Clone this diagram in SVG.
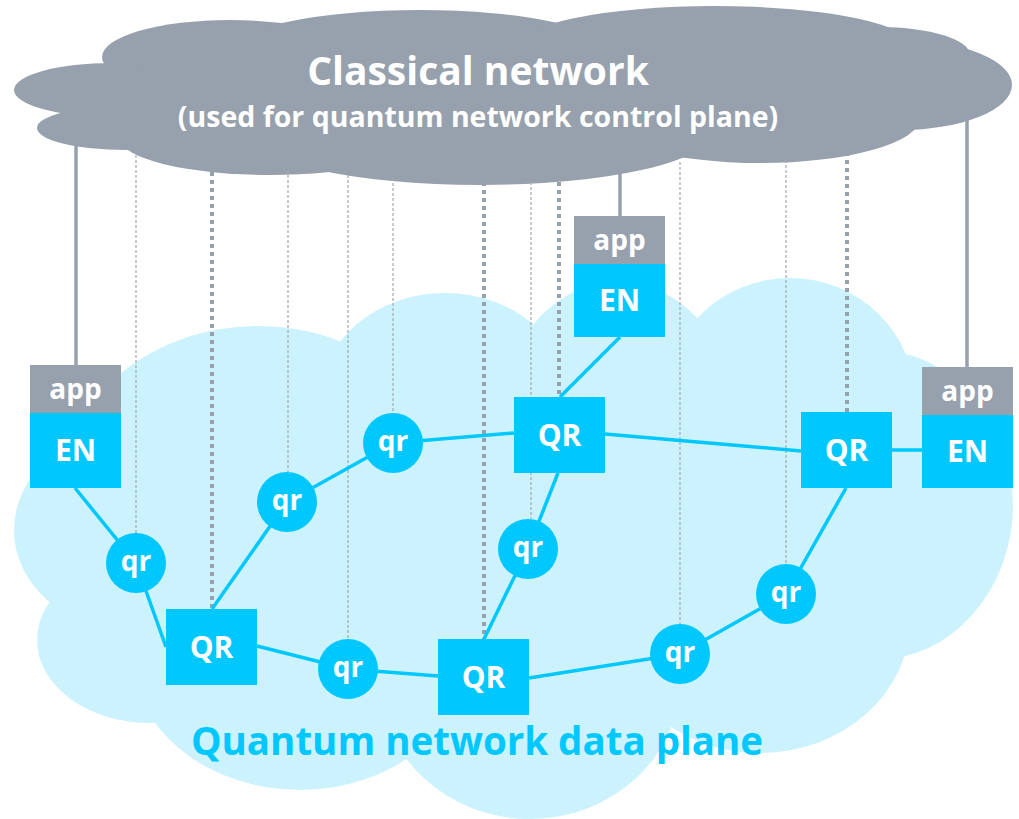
<svg xmlns="http://www.w3.org/2000/svg" width="1019" height="819" viewBox="0 0 1019 819">
<style>
.gc{fill:#97A1AD}
.bc{fill:#CCF3FD}
.cy{fill:#00C8FF}
.lk{stroke:#00C8FF;stroke-width:3.5;fill:none}
.solid{stroke:#97A1AD;stroke-width:3.5}
.thick{stroke:#97A1AD;stroke-width:4;stroke-dasharray:4 4}
.thin{stroke:#A3A8AE;stroke-width:1.2;stroke-dasharray:3 2}
text{font-family:"Open Sans","Noto Sans",sans-serif;font-weight:bold;fill:#fff;text-anchor:middle}
.lbl{font-size:28px}
.big{font-size:30px}
</style>
<g id="quantum-cloud" class="bc">
<ellipse cx="515" cy="540" rx="420" ry="200"/>
<ellipse cx="258" cy="500" rx="200" ry="174"/>
<ellipse cx="130" cy="530" rx="116" ry="100"/>
<ellipse cx="150" cy="640" rx="113" ry="83"/>
<ellipse cx="300" cy="650" rx="170" ry="140"/>
<ellipse cx="530" cy="680" rx="150" ry="139"/>
<ellipse cx="760" cy="620" rx="150" ry="133"/>
<ellipse cx="445" cy="400" rx="125" ry="107"/>
<ellipse cx="618" cy="400" rx="110" ry="118"/>
<ellipse cx="790" cy="400" rx="125" ry="122"/>
<ellipse cx="875" cy="505" rx="138" ry="155"/>
</g>
<g id="classical-cloud" class="gc">
<ellipse cx="230" cy="57" rx="128" ry="37"/>
<ellipse cx="112" cy="90" rx="98" ry="27"/>
<ellipse cx="125" cy="128" rx="88" ry="22"/>
<ellipse cx="270" cy="138" rx="150" ry="37"/>
<ellipse cx="480" cy="133" rx="230" ry="52"/>
<ellipse cx="420" cy="52" rx="190" ry="42"/>
<ellipse cx="715" cy="48" rx="200" ry="42"/>
<ellipse cx="760" cy="118" rx="160" ry="45"/>
<ellipse cx="900" cy="85" rx="112" ry="45"/>
<ellipse cx="880" cy="55" rx="90" ry="28"/>
<ellipse cx="500" cy="92" rx="390" ry="62"/>
</g>
<g id="connectors">
<line class="solid" x1="76" y1="140" x2="76" y2="365"/>
<line class="solid" x1="620" y1="170" x2="620" y2="216"/>
<line class="solid" x1="967" y1="120" x2="967" y2="367"/>
<line class="thick" x1="212" y1="172" x2="212" y2="609"/>
<line class="thick" x1="484" y1="182" x2="484" y2="639"/>
<line class="thick" x1="559" y1="182" x2="559" y2="397"/>
<line class="thick" x1="847" y1="152" x2="847" y2="412"/>
<line class="thin" x1="136" y1="150" x2="136" y2="533"/>
<line class="thin" x1="288" y1="170" x2="288" y2="472"/>
<line class="thin" x1="348" y1="175" x2="348" y2="639"/>
<line class="thin" x1="393" y1="178" x2="393" y2="413"/>
<line class="thin" x1="531" y1="182" x2="531" y2="519"/>
<line class="thin" x1="680" y1="162" x2="680" y2="625"/>
<line class="thin" x1="786" y1="160" x2="786" y2="565"/>
<line class="lk" x1="75" y1="488" x2="136" y2="563"/>
<line class="lk" x1="136" y1="563" x2="166" y2="647"/>
<line class="lk" x1="212" y1="609" x2="287" y2="502"/>
<line class="lk" x1="287" y1="502" x2="393" y2="443"/>
<line class="lk" x1="393" y1="443" x2="514" y2="433"/>
<line class="lk" x1="560" y1="397" x2="620" y2="337"/>
<line class="lk" x1="605" y1="434" x2="801" y2="451"/>
<line class="lk" x1="892" y1="450" x2="922" y2="450"/>
<line class="lk" x1="558" y1="473" x2="528" y2="549"/>
<line class="lk" x1="528" y1="549" x2="484" y2="639"/>
<line class="lk" x1="257" y1="646" x2="348" y2="669"/>
<line class="lk" x1="348" y1="669" x2="438" y2="676"/>
<line class="lk" x1="529" y1="678" x2="680" y2="654"/>
<line class="lk" x1="680" y1="654" x2="786" y2="594"/>
<line class="lk" x1="786" y1="594" x2="846" y2="488"/>
</g>
<g id="title">
<text x="478" y="85" style="font-size:39px">Classical network</text>
<text x="478" y="127" style="font-size:28.5px">(used for quantum network control plane)</text>
</g>
<g id="en-left">
<rect class="gc" x="30" y="365" width="91" height="48"/>
<rect class="cy" x="30" y="413" width="91" height="75"/>
<text class="lbl" x="75.5" y="399">app</text>
<text class="big" x="75.5" y="461">EN</text>
</g>
<g id="en-top">
<rect class="gc" x="574" y="216" width="91" height="48"/>
<rect class="cy" x="574" y="264" width="91" height="73"/>
<text class="lbl" x="619.5" y="250">app</text>
<text class="big" x="619.5" y="311">EN</text>
</g>
<g id="en-right">
<rect class="gc" x="922" y="367" width="91" height="48"/>
<rect class="cy" x="922" y="415" width="91" height="73"/>
<text class="lbl" x="967.5" y="401">app</text>
<text class="big" x="967.5" y="462">EN</text>
</g>
<g id="qr-top"><rect class="cy" x="514" y="397" width="91" height="76"/><text class="big" x="559.5" y="446">QR</text></g>
<g id="qr-right"><rect class="cy" x="801" y="412" width="91" height="76"/><text class="big" x="846.5" y="461">QR</text></g>
<g id="qr-bl"><rect class="cy" x="166" y="609" width="91" height="76"/><text class="big" x="211.5" y="658">QR</text></g>
<g id="qr-bm"><rect class="cy" x="438" y="639" width="91" height="76"/><text class="big" x="483.5" y="688">QR</text></g>
<g id="qr1"><circle class="cy" cx="136" cy="563" r="30"/><text class="lbl" x="136" y="571">qr</text></g>
<g id="qr2"><circle class="cy" cx="287" cy="502" r="30"/><text class="lbl" x="287" y="510">qr</text></g>
<g id="qr3"><circle class="cy" cx="393" cy="443" r="30"/><text class="lbl" x="393" y="451">qr</text></g>
<g id="qr4"><circle class="cy" cx="348" cy="669" r="30"/><text class="lbl" x="348" y="677">qr</text></g>
<g id="qr5"><circle class="cy" cx="528" cy="549" r="30"/><text class="lbl" x="528" y="557">qr</text></g>
<g id="qr6"><circle class="cy" cx="680" cy="654" r="30"/><text class="lbl" x="680" y="662">qr</text></g>
<g id="qr7"><circle class="cy" cx="786" cy="594" r="30"/><text class="lbl" x="786" y="602">qr</text></g>
<text x="477" y="755" style="font-size:38.5px;fill:#00C8FF">Quantum network data plane</text>
</svg>
